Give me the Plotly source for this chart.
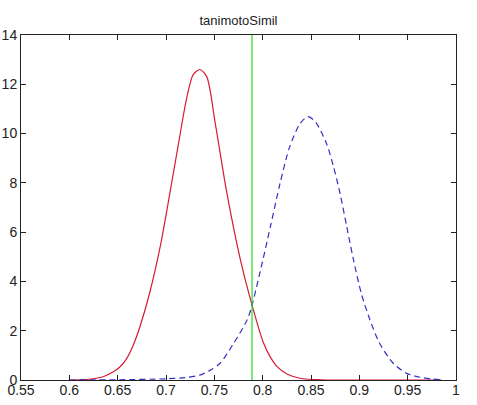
import plotly.graph_objects as go

# Red solid curve
red_x = [0.600, 0.620, 0.635, 0.645, 0.652, 0.659, 0.666, 0.673, 0.683, 0.694,
         0.704, 0.713, 0.721, 0.728, 0.735, 0.742, 0.751, 0.763, 0.777, 0.789,
         0.801, 0.808, 0.815, 0.825, 0.840, 0.860, 0.900, 0.985]
red_y = [0.00, 0.03, 0.13, 0.32, 0.52, 0.85, 1.40, 2.16, 3.52, 5.41,
         7.58, 9.61, 11.36, 12.38, 12.60, 12.32, 10.40, 7.58, 4.87, 3.04,
         1.49, 0.93, 0.54, 0.24, 0.06, 0.01, 0.00, 0.00]

# Blue dashed curve
blue_x = [0.600, 0.650, 0.700, 0.720, 0.735, 0.745, 0.756, 0.770, 0.784, 0.789,
          0.797, 0.808, 0.818, 0.828, 0.839, 0.847, 0.855, 0.866, 0.873, 0.880,
          0.887, 0.894, 0.902, 0.911, 0.921, 0.935, 0.949, 0.963, 0.975, 0.985]
blue_y = [0.00, 0.01, 0.05, 0.10, 0.20, 0.38, 0.68, 1.49, 2.44, 3.04,
          4.33, 6.22, 7.98, 9.47, 10.42, 10.69, 10.45, 9.60, 8.70, 7.58,
          6.22, 4.87, 3.52, 2.44, 1.49, 0.68, 0.27, 0.11, 0.04, 0.01]

# Green threshold line
thresh_x = [0.789, 0.789]
thresh_y = [0, 14]

x_ticks = [0.55, 0.6, 0.65, 0.7, 0.75, 0.8, 0.85, 0.9, 0.95, 1.0]
x_labels = ["0.55", "0.6", "0.65", "0.7", "0.75", "0.8", "0.85", "0.9", "0.95", "1"]
y_ticks = [0, 2, 4, 6, 8, 10, 12, 14]
y_labels = ["0", "2", "4", "6", "8", "10", "12", "14"]

fig = go.Figure()
fig.add_trace(go.Scatter(x=red_x, y=red_y, mode="lines",
                         line=dict(color="#d91a35", width=1.2, shape="spline", smoothing=0.8)))
fig.add_trace(go.Scatter(x=blue_x, y=blue_y, mode="lines",
                         line=dict(color="#3030c8", width=1.2, dash="6px,4px",
                                   shape="spline", smoothing=0.8)))
fig.add_trace(go.Scatter(x=thresh_x, y=thresh_y, mode="lines",
                         line=dict(color="#1fdc1f", width=1.2)))

axis_common = dict(showgrid=False, zeroline=False, showline=True, linecolor="#222",
                   linewidth=1, mirror="ticks", ticks="inside", ticklen=5,
                   tickcolor="#222", automargin=False,
                   tickfont=dict(family="Liberation Sans, Arial", size=14, color="#222"))

fig.update_layout(
    width=477, height=405,
    margin=dict(l=21, r=21, t=35, b=25),
    paper_bgcolor="white", plot_bgcolor="white",
    showlegend=False,
    title=dict(text="tanimotoSimil", x=0.5, xanchor="center", y=0.95, yanchor="middle",
               font=dict(family="Liberation Sans, Arial", size=13, color="#222")),
    xaxis=dict(range=[0.55, 1.0], tickvals=x_ticks, ticktext=x_labels,
               ticklabelstandoff=-3, **axis_common),
    yaxis=dict(range=[0, 14], tickvals=y_ticks, ticktext=y_labels,
               ticklabelstandoff=0, **axis_common),
)

fig.write_html("out.html")
